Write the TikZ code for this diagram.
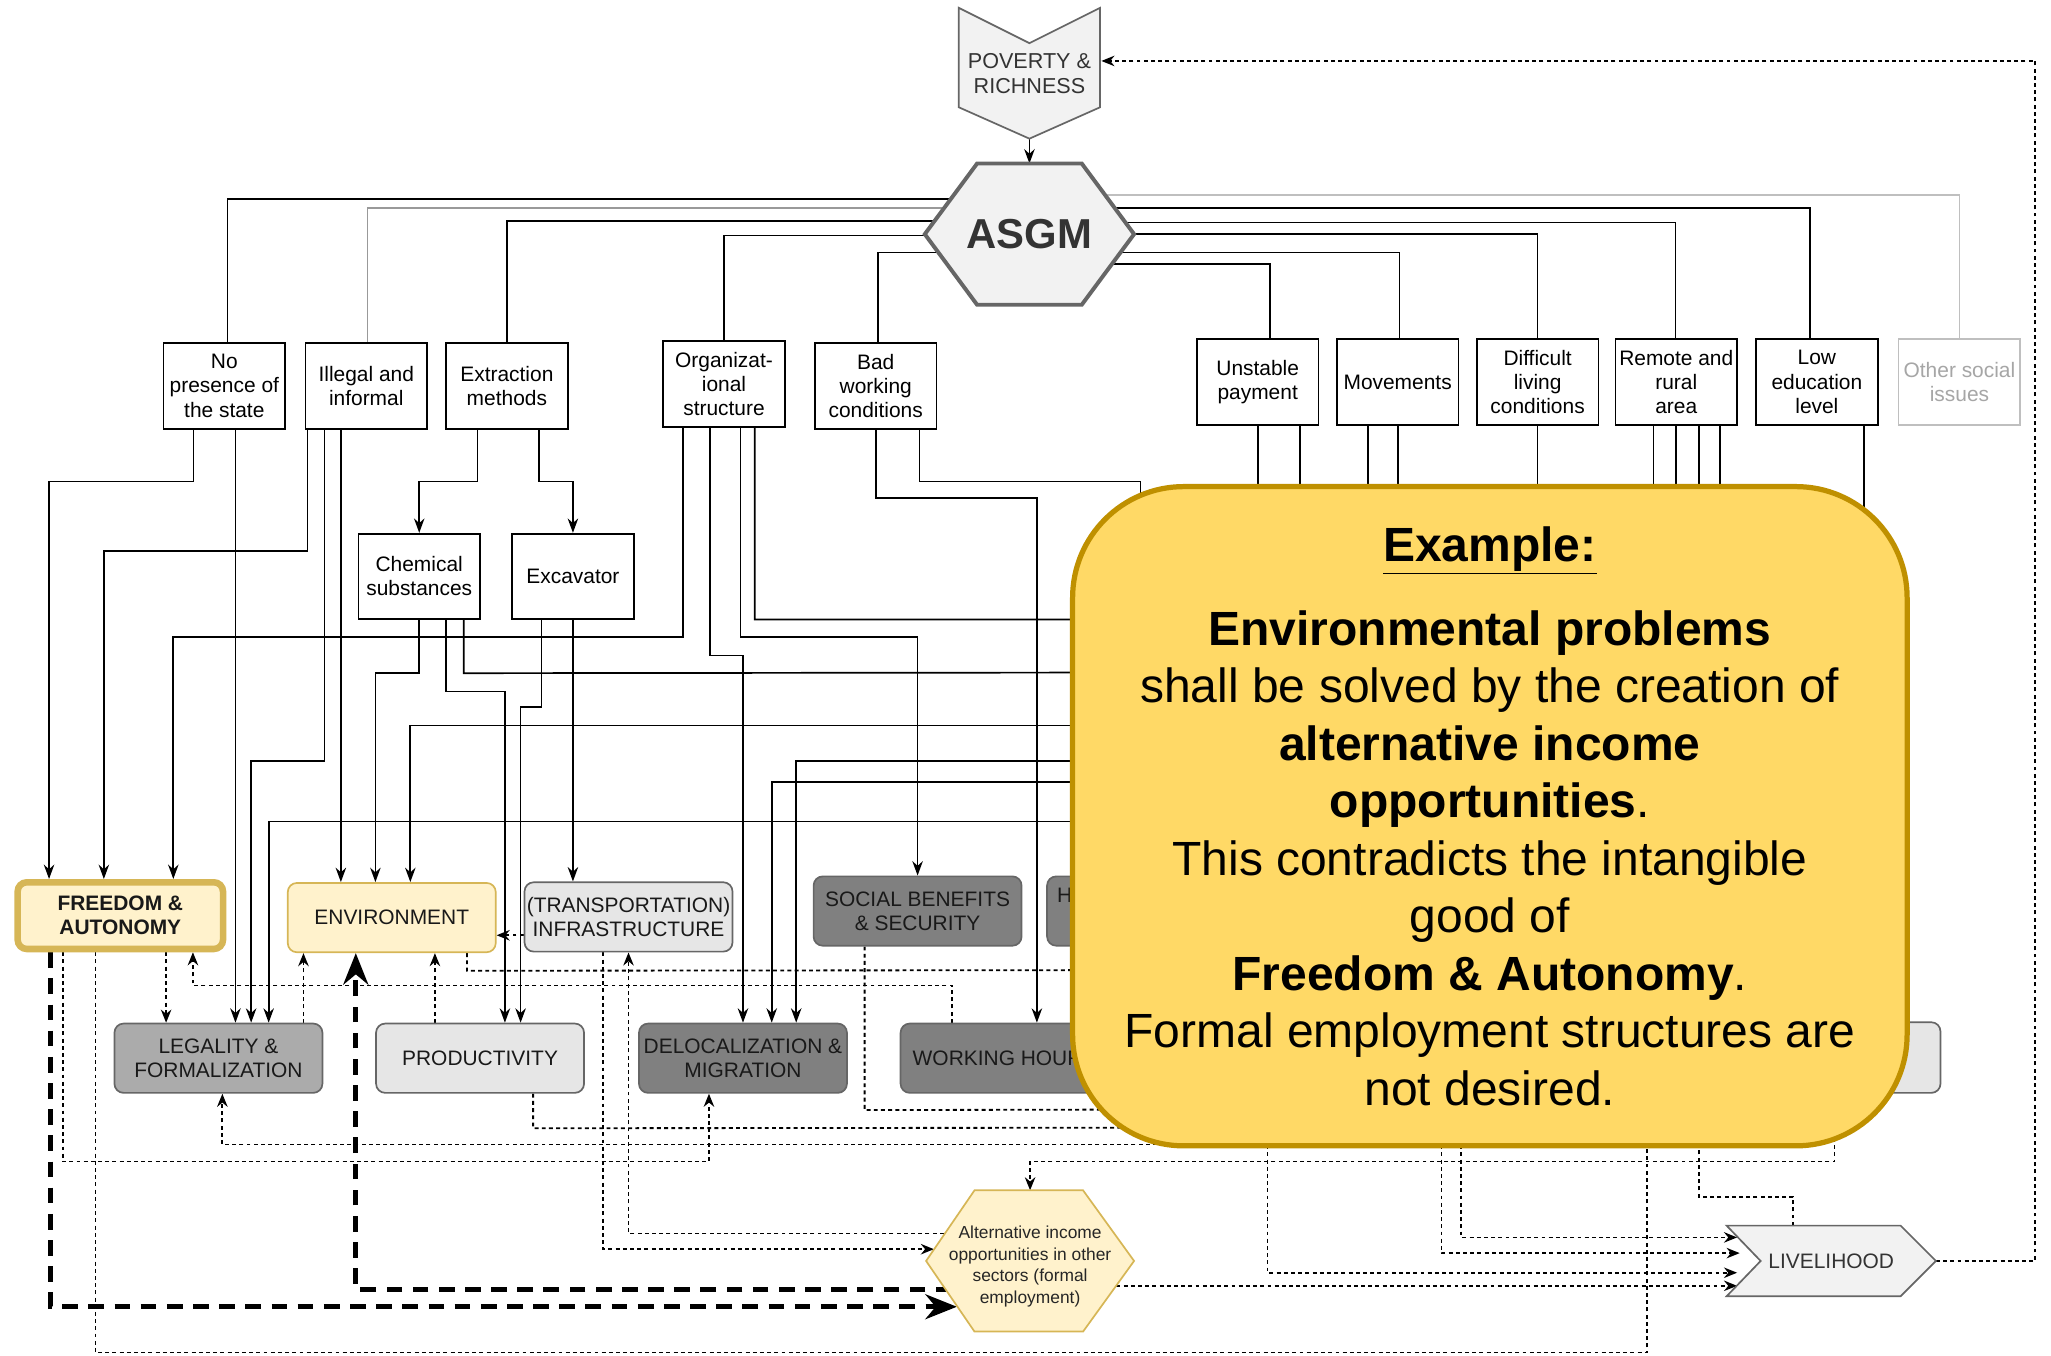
\documentclass[tikz,border=0pt]{standalone}
\usepackage{fontspec}
\setmainfont{Liberation Sans}
\usetikzlibrary{arrows.meta}
\pgfdeclarelayer{bg}
\pgfdeclarelayer{mid}
\pgfsetlayers{bg,mid,main}
\definecolor{paleyel}{HTML}{FFF2CC}
\definecolor{goldline}{HTML}{D6B656}
\definecolor{notefill}{HTML}{FFD966}
\definecolor{noteline}{HTML}{BF9000}
\definecolor{lightgr}{HTML}{E6E6E6}
\definecolor{midgr}{HTML}{ABABAB}
\definecolor{darkgr}{HTML}{808080}
\definecolor{shapegr}{HTML}{F2F2F2}
\definecolor{edgegr}{HTML}{666666}
\definecolor{textgr}{HTML}{333333}
\begin{document}
\begin{tikzpicture}[x=1pt,y=-1pt,
  cause/.style={draw,fill=white,line width=1.3pt,minimum width=93pt,minimum height=66pt,inner sep=0pt,align=center,font=\fontsize{16}{18.5}\selectfont},
  goodbox/.style={draw=edgegr,rounded corners=7pt,line width=1.3pt,minimum width=159pt,minimum height=53pt,inner sep=0pt,align=center,text=black!90,font=\fontsize{16}{18.5}\selectfont},
  shapetext/.style={inner sep=0pt,outer sep=0pt,align=center,text=textgr,font=\fontsize{16.5}{19}\selectfont},
  shapeline/.style={draw=edgegr,fill=shapegr,line width=1.3pt},
  asgmline/.style={line width=1.3pt},
  causearrow/.style={line width=1.3pt,-{Stealth[length=11pt,width=8pt]}},
  dotline/.style={line width=1.4pt,dash pattern=on 3pt off 2.5pt},
  dotarrow/.style={dotline,-{Stealth[length=10pt,width=8pt]}},
  bigarrow/.style={line width=4pt,dash pattern=on 12pt off 8pt,-{Stealth[length=24pt,width=19pt]}},
  examplebox/.style={draw=noteline,fill=notefill,line width=4pt,rounded corners=85pt,minimum width=638pt,minimum height=504pt,align=center,font=\fontsize{36.7}{44}\selectfont}
]
\useasboundingbox (0,0) rectangle (1568,1036);

\node[shapetext,minimum width=108pt,minimum height=100pt] (poverty) at (787,56) {POVERTY \&\\RICHNESS};
\node[shapetext,minimum width=160pt,minimum height=108pt,font=\fontsize{32}{36}\selectfont\bfseries] (asgm) at (787,179) {ASGM};

\node[cause] (nopres) at (171.5,295) {No\\presence of\\the state};
\node[cause] (illegal) at (280,295) {Illegal and\\informal};
\node[cause] (extract) at (387.5,295) {Extraction\\methods};
\node[cause] (orgstruct) at (553.5,293.5) {Organizat-\\ional\\structure};
\node[cause] (badwork) at (669.5,295) {Bad\\working\\conditions};
\node[cause] (unstable) at (961.5,292) {Unstable\\payment};
\node[cause] (movements) at (1068.5,292) {Movements};
\node[cause] (difficult) at (1175.5,292) {Difficult\\living\\conditions};
\node[cause] (remote) at (1281.5,292) {Remote and\\rural\\area};
\node[cause] (loweduc) at (1389,292) {Low\\education\\level};
\node[cause,draw=black!25,text=black!35] (othersoc) at (1498,292) {Other social\\issues};

\node[cause,minimum height=65pt] (chem) at (320.5,440.5) {Chemical\\substances};
\node[cause,minimum height=65pt] (excav) at (438,440.5) {Excavator};

\node[goodbox,fill=paleyel,draw=goldline,line width=5pt,minimum width=157pt,minimum height=51pt,font=\fontsize{16}{18.5}\selectfont\bfseries] (freedom) at (92,700) {FREEDOM \&\\AUTONOMY};
\node[goodbox,fill=paleyel,draw=goldline] (env) at (299.5,701.5) {ENVIRONMENT};
\node[goodbox,fill=lightgr] (infra) at (480.5,701) {(TRANSPORTATION)\\INFRASTRUCTURE};
\node[goodbox,fill=darkgr] (social) at (701.5,696.5) {SOCIAL BENEFITS\\\& SECURITY};
\node[goodbox,fill=darkgr] (health) at (880,696.5) {HEALTH \& SAFETY\\\strut};

\node[goodbox,fill=midgr] (legality) at (167,809) {LEGALITY \&\\FORMALIZATION};
\node[goodbox,fill=lightgr] (product) at (367,809) {PRODUCTIVITY};
\node[goodbox,fill=darkgr] (deloc) at (568,809) {DELOCALIZATION \&\\MIGRATION};
\node[goodbox,fill=darkgr] (working) at (768,809) {WORKING HOURS};
\node[goodbox,fill=lightgr,minimum height=54pt] (rightbox) at (1404,808.5) {};

\node[shapetext,minimum width=159pt,minimum height=108pt,text=black!85,font=\fontsize{13.3}{16.6}\selectfont] (alt) at (787.5,964) {\raisebox{-8pt}[0pt][0pt]{\begin{tabular}{@{}c@{}}Alternative income\\opportunities in other\\sectors (formal\\employment)\end{tabular}}};
\node[shapetext,minimum width=160pt,minimum height=54pt,font=\fontsize{16}{19}\selectfont] (livelihood) at (1400,964) {LIVELIHOOD};

\begin{pgfonlayer}{mid}
\draw[shapeline,line join=miter] (poverty.north west) -- ([yshift=-27pt]poverty.north) -- (poverty.north east) -- ([yshift=24pt]poverty.south east) -- (poverty.south) -- ([yshift=24pt]poverty.south west) -- cycle;
\draw[shapeline,line width=3pt] (asgm.west) -- ([xshift=40pt]asgm.north west) -- ([xshift=-40pt]asgm.north east) -- (asgm.east) -- ([xshift=-40pt]asgm.south east) -- ([xshift=40pt]asgm.south west) -- cycle;
\draw[shapeline,draw=goldline,fill=paleyel] (alt.west) -- ([xshift=37pt]alt.north west) -- ([xshift=-39pt]alt.north east) -- (alt.east) -- ([xshift=-39pt]alt.south east) -- ([xshift=37pt]alt.south west) -- cycle;
\draw[shapeline] (livelihood.north west) -- ([xshift=-27pt]livelihood.north east) -- (livelihood.east) -- ([xshift=-27pt]livelihood.south east) -- (livelihood.south west) -- ([xshift=26pt]livelihood.west) -- cycle;
\end{pgfonlayer}

\coordinate (orgend) at (1000,473.5);
\coordinate (chemend) at (1000,514);
\coordinate (badend) at (872,600);
\coordinate (envend) at (1000,741.5);
\coordinate (socend) at (1000,848);
\coordinate (prodend) at (1000,862);
\coordinate (legsrc) at (1000,875);
\coordinate (frdend) at (1259,870);
\coordinate (altsrc) at (1402.5,870);
\coordinate (lvsrca) at (969,870);
\coordinate (lvsrcb) at (1102,870);
\coordinate (lvsrcc) at (1117,870);
\coordinate (lvdst) at (1299,870);

\begin{pgfonlayer}{bg}
\draw[causearrow] (poverty.south) -- (asgm.north);

\draw[asgmline] ([yshift=27pt]asgm.center) -| ([xshift=2.5pt]nopres.north);
\draw[asgmline,draw=black!40] ([yshift=20pt]asgm.center) -| ([xshift=1pt]illegal.north);
\draw[asgmline] ([yshift=10pt]asgm.center) -| (extract.north);
\draw[asgmline] ([yshift=-1pt]asgm.center) -| (orgstruct.north);
\draw[asgmline] ([yshift=-14pt]asgm.center) -| ([xshift=1.5pt]badwork.north);
\draw[asgmline,draw=black!25] ([yshift=30pt]asgm.center) -| (othersoc.north);
\draw[asgmline] ([yshift=20pt]asgm.center) -| ([xshift=-5pt]loweduc.north);
\draw[asgmline] ([yshift=9pt]asgm.center) -| ([xshift=-0.5pt]remote.north);
\draw[asgmline] (asgm.center) -| (difficult.north);
\draw[asgmline] ([yshift=-14pt]asgm.center) -| ([xshift=1.5pt]movements.north);
\draw[asgmline] ([yshift=-23pt]asgm.center) -| ([xshift=9.5pt]unstable.north);

\draw[causearrow] ([xshift=-23.5pt]nopres.south) -- ++(0,39.5) -| ([xshift=-54.5pt]freedom.north);
\draw[causearrow] ([xshift=8.5pt]nopres.south) -- ([xshift=13pt]legality.north);
\draw[causearrow] ([xshift=-45pt]illegal.south) -- ++(0,92.5) -| ([xshift=-12.6pt]freedom.north);
\draw[causearrow] ([xshift=-32pt]illegal.south) -- ++(0,253) -| ([xshift=25pt]legality.north);
\draw[causearrow] ([xshift=-19.4pt]illegal.south) -- ([xshift=-38.9pt]env.north);
\draw[causearrow] ([xshift=-22.5pt]extract.south) -- ++(0,39.5) -| (chem.north);
\draw[causearrow] ([xshift=24.5pt]extract.south) -- ++(0,39.5) -| (excav.north);
\draw[causearrow] (chem.south) -- ++(0,41) -| ([xshift=-12.5pt]env.north);
\draw[causearrow] ([xshift=20.5pt]chem.south) -- ++(0,55) -| ([xshift=19pt]product.north);
\draw[asgmline] ([xshift=34pt]chem.south) -- ++(0,41) -- (chemend);
\draw[causearrow] ([xshift=-24pt]excav.south) -- ++(0,67) -| ([xshift=31pt]product.north);
\draw[causearrow] (excav.south) -- ([xshift=-42.5pt]infra.north);
\draw[causearrow] ([xshift=-31.5pt]orgstruct.south) -- ++(0,160) -| ([xshift=40.5pt]freedom.north);
\draw[causearrow] ([xshift=-10.5pt]orgstruct.south) -- ++(0,174) -| (deloc.north);
\draw[causearrow] ([xshift=12.5pt]orgstruct.south) -- ++(0,160) -| (social.north);
\draw[asgmline] ([xshift=23.5pt]orgstruct.south) -- ++(0,146.5) -- (orgend);
\draw[causearrow] (badwork.south) -- ++(0,52) -| ([xshift=24.7pt]working.north);
\draw[asgmline] ([xshift=33.5pt]badwork.south) -- ++(0,39.5) -| (badend);
\draw[causearrow] (unstable.south) -- ++(0,229) -| ([xshift=14.2pt]env.north);
\draw[causearrow] ([xshift=-22.5pt]movements.south) -- ++(0,256) -| ([xshift=40.7pt]deloc.north);
\draw[causearrow] ([xshift=-17.5pt]remote.south) -- ++(0,272) -| ([xshift=22pt]deloc.north);
\draw[causearrow] ([xshift=36pt]loweduc.south) -- ++(0,302.4) -| ([xshift=38.4pt]legality.north);
\draw[asgmline] ([xshift=32.5pt]unstable.south) -- ++(0,250);
\draw[asgmline] ([xshift=0.5pt]movements.south) -- ++(0,250);
\draw[asgmline] (difficult.south) -- ++(0,250);
\draw[asgmline] (remote.south) -- ++(0,250);
\draw[asgmline] ([xshift=17.5pt]remote.south) -- ++(0,250);
\draw[asgmline] ([xshift=33.5pt]remote.south) -- ++(0,250);

\draw[bigarrow] ([xshift=-53.4pt]freedom.south) |- ([xshift=-56pt,yshift=-35pt]alt.center);
\draw[bigarrow] ([yshift=-22pt]alt.center) -| ([xshift=-27.5pt]env.south);
\draw[dotarrow] ([xshift=-44pt]freedom.south) -- ++(0,160) -| ([xshift=-26pt]deloc.south);
\draw[dotline] ([xshift=-19pt]freedom.south) -- ++(0,306) -| (frdend);
\draw[dotarrow] ([xshift=-40pt]working.north) -- ++(0,-28.5) -| ([xshift=55.5pt]freedom.south);
\draw[dotline] ([xshift=57.5pt]env.south) -- ++(0,13.5) -- (envend);
\draw[dotarrow] ([xshift=35pt]freedom.south) -- ([xshift=-40pt]legality.north);
\draw[dotarrow] ([xshift=65pt]legality.north) -- ([xshift=-67.5pt]env.south);
\draw[dotarrow] ([xshift=-34.5pt]product.north) -- ([xshift=33pt]env.south);
\draw[dotarrow] ([yshift=-14pt]infra.west) -- ([yshift=-13.5pt]env.east);
\draw[dotline] ([xshift=40.6pt]product.south) -- ++(0,26.4) -- (prodend);
\draw[dotarrow] (legsrc) -| ([xshift=3pt]legality.south);
\draw[dotarrow] ([xshift=-19.5pt]infra.south) |- ([xshift=-73.5pt,yshift=9pt]alt.center);
\draw[dotarrow] ([yshift=21pt]alt.center) -| (infra.south);
\draw[dotline] ([xshift=-40.5pt]social.south) -- ++(0,125) -- (socend);
\draw[dotarrow] (altsrc) -- ++(0,18) -| (alt.north);
\draw[dotarrow] (lvsrca) |- ([xshift=-72pt,yshift=-9pt]livelihood.center);
\draw[dotarrow] (lvsrcb) |- ([xshift=-70pt,yshift=6pt]livelihood.center);
\draw[dotarrow] (lvsrcc) |- ([xshift=-72pt,yshift=18pt]livelihood.center);
\draw[dotarrow] ([yshift=-19pt]alt.center) -- ([xshift=-72pt,yshift=-19pt]livelihood.center);
\draw[dotarrow] (livelihood.east) -- ++(76,0) |- ([xshift=55pt,yshift=9.4pt]poverty.center);
\draw[dotline] ([xshift=-29pt]livelihood.north) -- ++(0,-22) -| (lvdst);
\end{pgfonlayer}

\node[examplebox] (example) at (1139,624) {\textbf{\underline{Example:}}\\[20pt]
\textbf{Environmental problems}\\
shall be solved by the creation of\\
\textbf{alternative income}\\
\textbf{opportunities}.\\
This contradicts the intangible\\
good of\\
\textbf{Freedom \& Autonomy}.\\
Formal employment structures are\\
not desired.};
\end{tikzpicture}
\end{document}
